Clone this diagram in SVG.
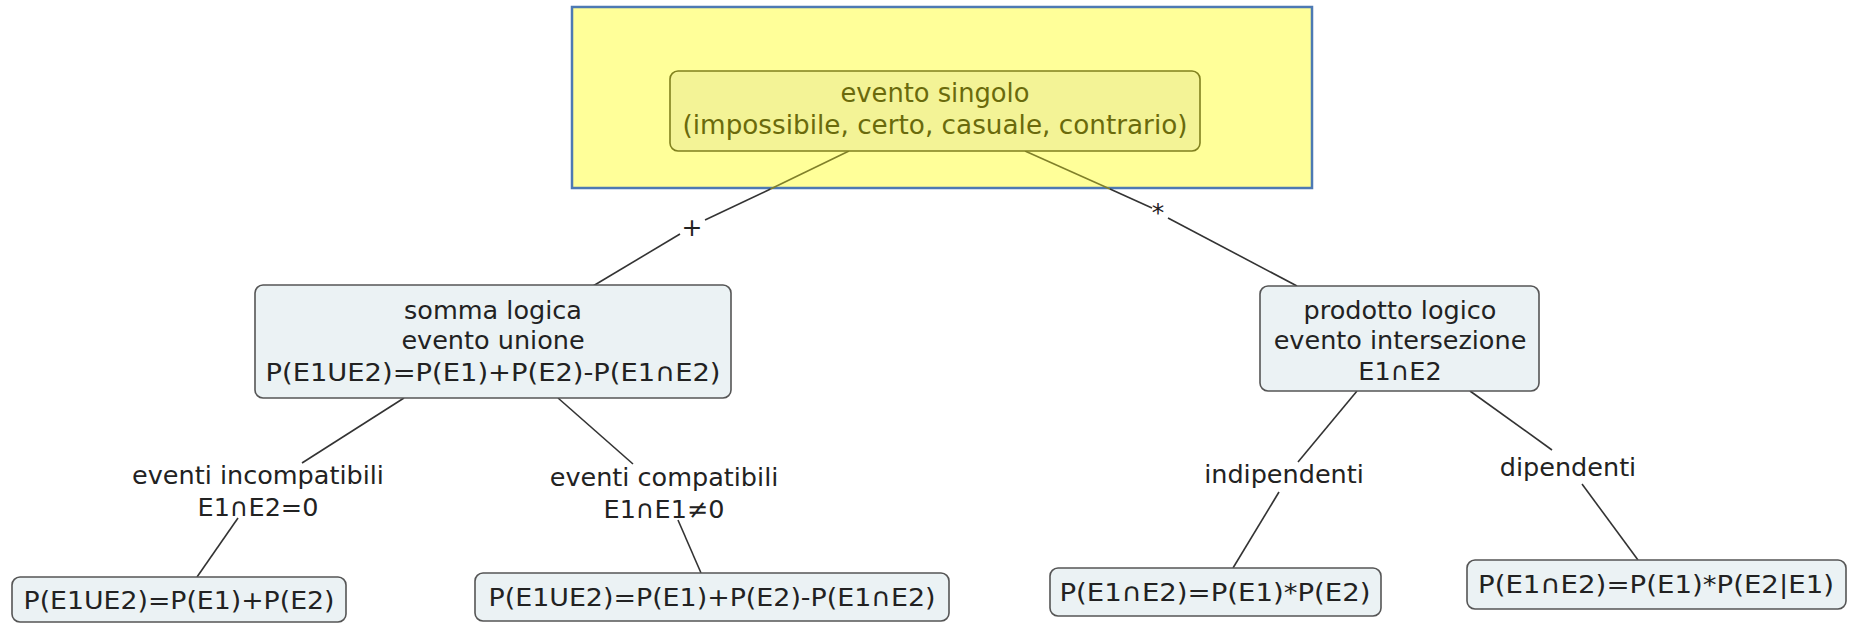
<svg xmlns="http://www.w3.org/2000/svg" width="1854" height="623" viewBox="0 0 1854 623">
  <style>
    .node rect { fill: #ebf2f4; stroke: #555; stroke-width: 1.6; }
    text { font-family: "DejaVu Sans", Verdana, sans-serif; font-size: 25.5px; fill: #222; text-anchor: middle; }
    .top rect { fill: #f3f396; stroke: #80801e; stroke-width: 1.6; }
    .top text { fill: #6a6a0c; font-size: 26px; }
    .links line { stroke: #333; stroke-width: 1.6; }
    .links line.olive { stroke: #80802a; }
    .lbl { font-size: 25px; }
  </style>

  <!-- highlight panel behind the root concept -->
  <rect id="panel" x="572" y="7" width="740" height="181" fill="#ffff99" stroke="#4d79b3" stroke-width="2.5"/>

  <g class="links">
    <!-- root to somma logica, via "+" -->
    <line class="olive" x1="849" y1="151" x2="770.5" y2="189"/>
    <line x1="770.5" y1="189" x2="705" y2="220"/>
    <line x1="680" y1="234" x2="593" y2="286"/>
    <!-- root to prodotto logico, via "*" -->
    <line class="olive" x1="1025" y1="151" x2="1110" y2="189"/>
    <line x1="1110" y1="189" x2="1152" y2="208"/>
    <line x1="1168" y1="218" x2="1297" y2="286"/>
    <!-- somma logica branches -->
    <line x1="404" y1="398" x2="302" y2="463"/>
    <line x1="238" y1="518" x2="197" y2="577"/>
    <line x1="558" y1="398" x2="633" y2="464"/>
    <line x1="678" y1="520" x2="701" y2="573"/>
    <!-- prodotto logico branches -->
    <line x1="1357" y1="391" x2="1298" y2="462"/>
    <line x1="1279" y1="492" x2="1233" y2="568"/>
    <line x1="1470" y1="391" x2="1552" y2="450"/>
    <line x1="1582" y1="484" x2="1638" y2="560"/>
  </g>

  <!-- connector labels -->
  <text class="lbl" x="692" y="236">+</text>
  <text class="lbl" x="1158" y="221">*</text>

  <g id="n-root" class="top">
    <rect x="670" y="71" width="530" height="80" rx="8"/>
    <text x="935" y="102" textLength="189" lengthAdjust="spacingAndGlyphs">evento singolo</text>
    <text x="935" y="134" textLength="505" lengthAdjust="spacingAndGlyphs">(impossibile, certo, casuale, contrario)</text>
  </g>

  <g id="n-somma" class="node">
    <rect x="255" y="285" width="476" height="113" rx="8"/>
    <text x="493" y="319">somma logica</text>
    <text x="493" y="349">evento unione</text>
    <text x="493" y="381" textLength="455" lengthAdjust="spacingAndGlyphs">P(E1UE2)=P(E1)+P(E2)-P(E1∩E2)</text>
  </g>

  <g id="n-prodotto" class="node">
    <rect x="1260" y="286" width="279" height="105" rx="8"/>
    <text x="1400" y="319">prodotto logico</text>
    <text x="1400" y="349">evento intersezione</text>
    <text x="1400" y="380">E1∩E2</text>
  </g>

  <g id="n-incompatibili">
    <text x="258" y="484">eventi incompatibili</text>
    <text x="258" y="516">E1∩E2=0</text>
  </g>

  <g id="n-compatibili">
    <text x="664" y="486">eventi compatibili</text>
    <text x="664" y="518">E1∩E1≠0</text>
  </g>

  <g id="n-indipendenti">
    <text x="1284" y="483">indipendenti</text>
  </g>

  <g id="n-dipendenti">
    <text x="1568" y="476">dipendenti</text>
  </g>

  <g id="n-unione-inc" class="node">
    <rect x="12" y="577" width="334" height="45" rx="8"/>
    <text x="179" y="609" textLength="311" lengthAdjust="spacingAndGlyphs">P(E1UE2)=P(E1)+P(E2)</text>
  </g>

  <g id="n-unione-comp" class="node">
    <rect x="475" y="573" width="474" height="48" rx="8"/>
    <text x="712" y="606" textLength="447" lengthAdjust="spacingAndGlyphs">P(E1UE2)=P(E1)+P(E2)-P(E1∩E2)</text>
  </g>

  <g id="n-int-indip" class="node">
    <rect x="1050" y="568" width="331" height="48" rx="8"/>
    <text x="1215" y="601" textLength="311" lengthAdjust="spacingAndGlyphs">P(E1∩E2)=P(E1)*P(E2)</text>
  </g>

  <g id="n-int-dip" class="node">
    <rect x="1467" y="560" width="379" height="49" rx="8"/>
    <text x="1656" y="593" textLength="356" lengthAdjust="spacingAndGlyphs">P(E1∩E2)=P(E1)*P(E2|E1)</text>
  </g>
</svg>
